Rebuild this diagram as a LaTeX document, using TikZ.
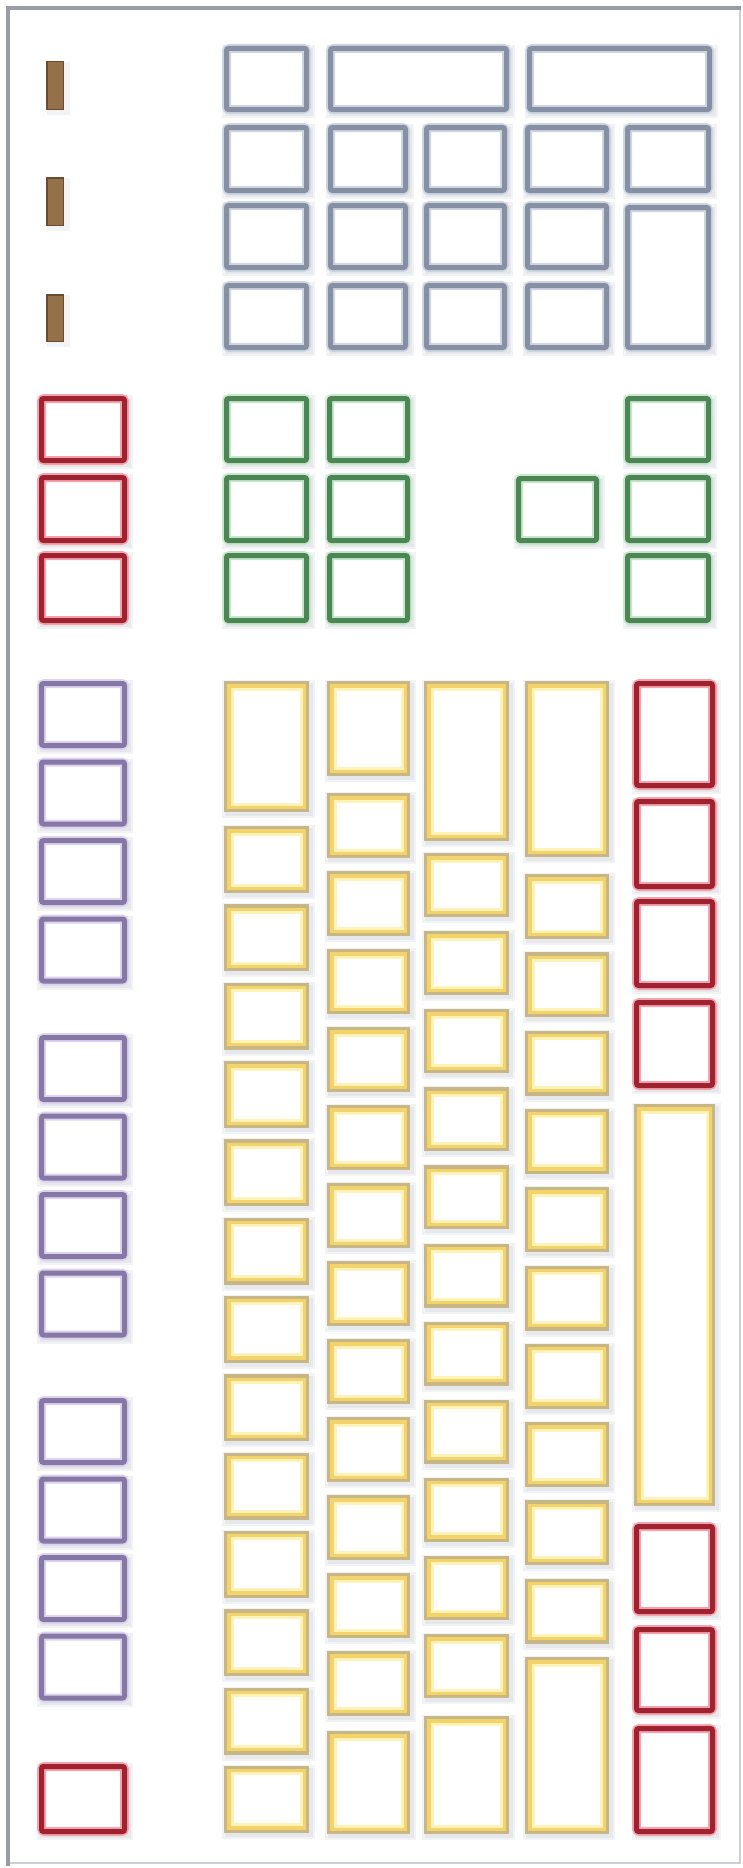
\documentclass[tikz,border=0pt]{standalone}
\definecolor{gk}{HTML}{8690A2}
\definecolor{gkh}{HTML}{CDD5E3}
\definecolor{rk}{HTML}{9E2230}
\definecolor{rkh}{HTML}{F4A3AC}
\definecolor{vk}{HTML}{8678A4}
\definecolor{vkh}{HTML}{DDD2F0}
\definecolor{nk}{HTML}{4B8654}
\definecolor{nkh}{HTML}{C8E6CB}
\definecolor{ytan}{HTML}{C8B786}
\definecolor{yel}{HTML}{F4D36A}
\definecolor{ypale}{HTML}{FFF3BA}
\definecolor{bfill}{HTML}{967048}
\definecolor{bline}{HTML}{6A4C30}
\definecolor{shade}{HTML}{A8AFBC}
\definecolor{frameA}{HTML}{989DA4}
\definecolor{frameB}{HTML}{CDD1D6}
\newif\ifshadowpass
\tikzset{
  shadowbox/.style={fill=shade, fill opacity=0.15},
  halo/.style={line width=9pt, rounded corners=3pt, fill=white},
  keyline/.style={line width=5pt, rounded corners=2pt},
}
\newcommand\shadowof[4]{%
  \fill[shadowbox] (#1-2,#2-1) rectangle (#3+6,#4+6);
  \fill[shadowbox] (#1+1,#2+2) rectangle (#3+4,#4+4);
}
\newcommand\SK[5]{%
  \ifshadowpass\shadowof{#2}{#3}{#4}{#5}%
  \else
  \draw[halo, draw=#1h] (#2+2.5,#3+2.5) rectangle (#4-2.5,#5-2.5);
  \draw[keyline, draw=#1] (#2+2.5,#3+2.5) rectangle (#4-2.5,#5-2.5);
  \fi}
\newcommand\YK[4]{%
  \ifshadowpass\shadowof{#1}{#2}{#3}{#4}%
  \else
  \fill[white] (#1,#2) rectangle (#3,#4);
  \draw[draw=ytan, line width=3.5pt] (#1+1.75,#2+1.75) rectangle (#3-1.75,#4-1.75);
  \draw[draw=yel, line width=3.5pt] (#1+5,#2+5) rectangle (#3-5,#4-5);
  \draw[draw=ypale, line width=3pt] (#1+8,#2+8) rectangle (#3-8,#4-8);
  \fi}
\newcommand\BK[4]{%
  \ifshadowpass\fill[shadowbox] (#1+1,#2+1) rectangle (#3+6,#4+5);%
  \else
  \draw[fill=bfill, draw=bline, line width=1.5pt] (#1+0.75,#2+0.75) rectangle (#3-0.75,#4-0.75);
  \fi}
\newcommand\allkeys{%
  % brown marks
  \BK{46}{61}{64}{110}
  \BK{46}{177}{64}{226}
  \BK{46}{294}{64}{342}
  % gray block
  \SK{gk}{224}{46}{309}{112}
  \SK{gk}{328}{46}{509}{112}
  \SK{gk}{527}{46}{712}{112}
  \SK{gk}{224}{125}{309}{193}
  \SK{gk}{328}{125}{408}{193}
  \SK{gk}{424}{125}{507}{193}
  \SK{gk}{525}{125}{609}{193}
  \SK{gk}{625}{125}{711}{193}
  \SK{gk}{224}{203}{309}{270}
  \SK{gk}{328}{203}{408}{270}
  \SK{gk}{424}{203}{507}{270}
  \SK{gk}{525}{203}{609}{270}
  \SK{gk}{625}{205}{711}{350}
  \SK{gk}{224}{283}{309}{350}
  \SK{gk}{328}{283}{408}{350}
  \SK{gk}{424}{283}{507}{350}
  \SK{gk}{525}{283}{609}{350}
  % red left
  \SK{rk}{39}{396}{127}{463}
  \SK{rk}{39}{475}{127}{543}
  \SK{rk}{39}{553}{127}{623}
  % green
  \SK{nk}{224}{396}{309}{463}
  \SK{nk}{224}{475}{309}{543}
  \SK{nk}{224}{553}{309}{623}
  \SK{nk}{327}{396}{410}{463}
  \SK{nk}{327}{475}{410}{543}
  \SK{nk}{327}{553}{410}{623}
  \SK{nk}{516}{476}{599}{543}
  \SK{nk}{625}{396}{711}{463}
  \SK{nk}{625}{475}{711}{543}
  \SK{nk}{625}{553}{711}{623}
  % purple
  \foreach \t in {681,759.5,838,916.5, 1035,1113.5,1192,1270.5, 1398,1476.5,1555,1633.5}
    {\SK{vk}{39}{\t}{127}{\t+67}}
  \SK{rk}{39}{1764}{127}{1834}
  % yellow column A
  \YK{224}{681}{309}{812}
  \foreach \i in {0,...,12} {\YK{224}{826+\i*78.33}{309}{893+\i*78.33}}
  % column B
  \YK{327}{681}{410}{776}
  \foreach \i in {0,...,11} {\YK{327}{793+\i*78}{410}{858+\i*78}}
  \YK{327}{1731}{410}{1834}
  % column C
  \YK{424}{681}{509}{841}
  \foreach \i in {0,...,10} {\YK{424}{853+\i*78.1}{509}{917+\i*78.1}}
  \YK{424}{1716}{509}{1834}
  % column D
  \YK{525}{681}{609}{857}
  \foreach \i in {0,...,9} {\YK{525}{874+\i*78.3}{609}{939+\i*78.3}}
  \YK{525}{1657}{609}{1834}
  % column E
  \SK{rk}{634}{681}{715}{788}
  \SK{rk}{634}{799}{715}{889}
  \SK{rk}{634}{899}{715}{988}
  \SK{rk}{634}{1000}{715}{1088}
  \YK{634}{1104}{715}{1506}
  \SK{rk}{634}{1524}{715}{1614}
  \SK{rk}{634}{1627}{715}{1713}
  \SK{rk}{634}{1726}{715}{1834}
}
\begin{document}
\begin{tikzpicture}[x=1pt,y=-1pt]
\useasboundingbox (0,0) rectangle (743,1868);
\fill[white] (0,0) rectangle (743,1868);
\draw[frameB, line width=1.5pt] (7.5,8.5) rectangle (740,1863);
\draw[frameA, line width=4pt] (7.5,1866) -- (7.5,8.5) -- (741,8.5);
\shadowpasstrue
\allkeys
\shadowpassfalse
\allkeys
\end{tikzpicture}
\end{document}
